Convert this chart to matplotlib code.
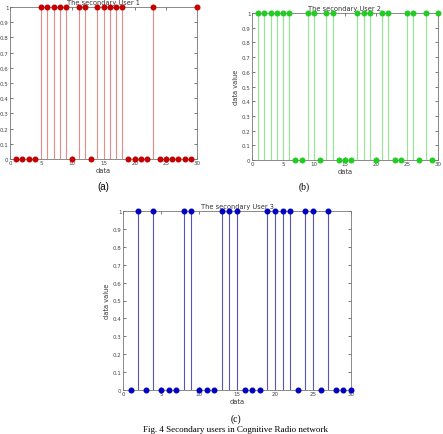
import matplotlib.pyplot as plt
import numpy as np

W, H = 443, 435

x = np.arange(1, 31)
user1 = [0, 0, 0, 0, 1, 1, 1, 1, 1, 0, 1, 1, 0, 1, 1, 1, 1, 1, 0, 0,
         0, 0, 1, 0, 0, 0, 0, 0, 0, 1]
user2 = [1, 1, 1, 1, 1, 1, 0, 0, 1, 1, 0, 1, 1, 0, 0, 0, 1, 1, 1, 0,
         1, 1, 0, 0, 1, 1, 0, 1, 0, 1]
user3 = [0, 1, 0, 1, 0, 0, 0, 1, 1, 0, 0, 0, 1, 1, 1, 0, 0, 0, 1, 1,
         1, 1, 0, 1, 1, 0, 1, 0, 0, 0]
titles = ['The secondary User 1', 'The secondary User 2', 'The secondary User 3']
panel_labels = ['(a)', '(b)', '(c)']
caption = 'Fig. 4 Secondary users in Cognitive Radio network'


def box(l, t, r, b):
    # pixel box -> figure fraction
    return [l / W, (H - b) / H, (r - l) / W, (b - t) / H]


fig = plt.figure(figsize=(W / 100, H / 100), dpi=100)
fig.patch.set_facecolor('white')

panels = [
    (box(10, 8, 197, 160), user1, '#e88a8a', '#c40000', False),
    (box(252, 14, 438, 161), user2, '#90e890', '#22cc22', True),
    (box(123, 212, 351, 391), user3, '#5555bb', '#0000c0', True),
]

for i, (rect, vals, lc, mc, ylab) in enumerate(panels):
    ax = fig.add_axes(rect)
    ml, sl, bl = ax.stem(x, vals, basefmt=' ')
    plt.setp(sl, color=lc, linewidth=0.8)
    plt.setp(ml, color=mc, marker='o', markersize=3.3, clip_on=False, zorder=5)
    ax.set_xlim(0, 30)
    ax.set_ylim(0, 1)
    ax.set_xticks(np.arange(0, 31, 5))
    ax.set_yticks(np.arange(0, 1.01, 0.1))
    ax.set_yticklabels(['0'] + ['%.1f' % v for v in np.arange(0.1, 0.95, 0.1)] + ['1'])
    ax.tick_params(direction='in', length=2, width=0.5, labelsize=4,
                   top=True, right=True, pad=1, colors='#444444')
    for s in ax.spines.values():
        s.set_color('#777777')
        s.set_linewidth(0.6)
    ax.set_title(titles[i], fontsize=4.8, pad=2.5, color='#333333')
    ax.set_xlabel('data', fontsize=4.8, labelpad=1, color='#333333')
    if ylab:
        ax.set_ylabel('data value', fontsize=4.8, labelpad=2, color='#333333')

fig.text(103 / W, 1 - 187 / H, panel_labels[0], ha='center', va='center',
         fontsize=7, family='Liberation Sans')
fig.text(304 / W, 1 - 187 / H, panel_labels[1], ha='center', va='center',
         fontsize=7, family='Liberation Serif')
fig.text(236 / W, 1 - 419 / H, panel_labels[2], ha='center', va='center',
         fontsize=7, family='Liberation Serif')
fig.text(236 / W, 1 - 430 / H, caption, ha='center', va='center',
         fontsize=6.5, family='Liberation Serif')

fig.savefig('out.png', dpi=100)
